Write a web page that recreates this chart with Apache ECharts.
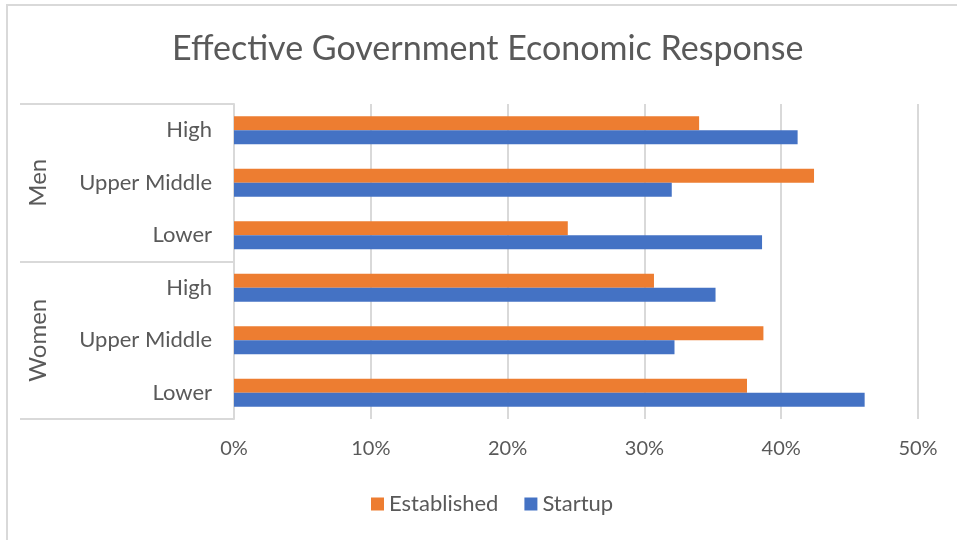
<!DOCTYPE html>
<html>
<head>
<meta charset="utf-8">
<script src="https://cdn.jsdelivr.net/npm/echarts@6/dist/echarts.min.js"></script>
<style>html,body{margin:0;padding:0;background:#fff}#c{width:957px;height:540px}</style>
</head>
<body>
<div id="c"></div>
<script>
const categories = ['High', 'Upper Middle', 'Lower', 'High', 'Upper Middle', 'Lower'];
const groups = ['Men', 'Women'];
const seriesNames = ['Established', 'Startup'];
const established = [34.0, 42.4, 24.4, 30.7, 38.7, 37.5];
const startup = [41.2, 32.0, 38.6, 35.2, 32.2, 46.1];
const xMin = 0, xMax = 50, xStep = 10;

const FONT = 'Lato';
const GRAY = '#595959';
const LINE = '#d9d9d9';

const chart = echarts.init(document.getElementById('c'), null, {renderer: 'canvas'});
chart.setOption({
  backgroundColor: '#fff',
  animation: false,
  textStyle: {fontFamily: FONT},
  title: {
    text: 'Effective Government Economic Response',
    left: 167, top: 27,
    textStyle: {fontFamily: FONT, fontSize: 34, fontWeight: 'normal', color: GRAY}
  },
  legend: {
    data: seriesNames,
    left: 366, top: 488,
    icon: 'rect', itemWidth: 13, itemHeight: 13, itemGap: 26,
    textStyle: {fontFamily: FONT, fontSize: 22, color: GRAY}
  },
  graphic: [{
    type: 'rect', silent: true,
    shape: {x: 7, y: 5, width: 1000, height: 600},
    style: {fill: 'none', stroke: LINE, lineWidth: 2}
  }],
  grid: {left: 234, right: 39, top: 104, bottom: 121, containLabel: false},
  xAxis: {
    type: 'value', min: xMin, max: xMax, interval: xStep,
    axisLine: {show: false}, axisTick: {show: false},
    splitLine: {lineStyle: {color: LINE, width: 2}},
    axisLabel: {formatter: '{value}%', fontFamily: FONT, fontSize: 20, color: GRAY, margin: 20}
  },
  yAxis: [{
    type: 'category', data: categories, inverse: true, position: 'left',
    axisLine: {lineStyle: {color: LINE, width: 2}},
    axisTick: {show: false},
    axisLabel: {fontFamily: FONT, fontSize: 22, color: GRAY, margin: 22}
  }, {
    type: 'category', data: groups, inverse: true, position: 'left', offset: 0,
    axisLine: {show: false},
    axisTick: {show: true, length: 214, lineStyle: {color: LINE, width: 2}},
    axisLabel: {fontFamily: FONT, fontSize: 24, color: GRAY, rotate: 90, margin: 196,
                align: 'center', verticalAlign: 'middle'}
  }],
  series: [{
    name: seriesNames[0], type: 'bar', yAxisIndex: 0, data: established,
    itemStyle: {color: '#ED7D31'}, barGap: '0%', barCategoryGap: '47%'
  }, {
    name: seriesNames[1], type: 'bar', yAxisIndex: 0, data: startup,
    itemStyle: {color: '#4472C4'}, barGap: '0%', barCategoryGap: '47%'
  }]
});
</script>
</body>
</html>
